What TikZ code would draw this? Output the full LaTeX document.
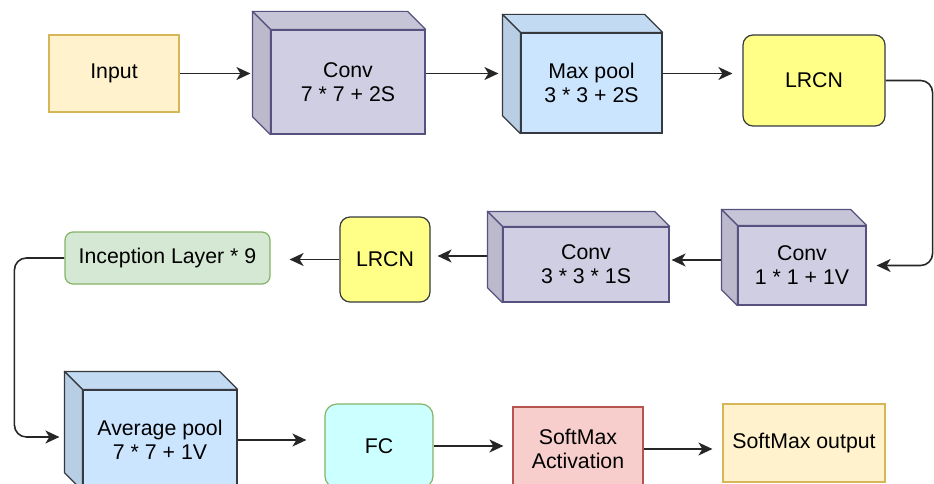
\documentclass[tikz,border=0pt]{standalone}
\usepackage{fontspec}
\setmainfont{Liberation Sans}
\usetikzlibrary{arrows.meta,calc,backgrounds}
\definecolor{cvfill}{HTML}{D0CEE2}
\definecolor{cvline}{HTML}{56517E}
\definecolor{plfill}{HTML}{CCE5FF}
\definecolor{dkline}{HTML}{36393D}
\definecolor{iofill}{HTML}{FFF2CC}
\definecolor{ioline}{HTML}{D6B656}
\definecolor{lrfill}{HTML}{FFFF88}
\definecolor{icfill}{HTML}{D5E8D4}
\definecolor{icline}{HTML}{82B366}
\definecolor{fcfill}{HTML}{CCFFFF}
\definecolor{smfill}{HTML}{F8CECC}
\definecolor{smline}{HTML}{B85450}
\tikzset{
  fx/.style={x=1pt, y=1pt, font=\fontsize{21.3}{24}\selectfont},
  n box/.style={draw, line width=1.2pt, align=center, inner sep=0pt},
  n io/.style={n box, fill=iofill, draw=ioline},
  n conv/.style={n box, fill=cvfill, draw=cvline},
  n pool/.style={n box, fill=plfill, draw=dkline},
  n lrcn/.style={n box, fill=lrfill, draw=dkline, rounded corners=10pt},
  n incep/.style={n box, fill=icfill, draw=icline, rounded corners=8pt},
  n fc/.style={n box, fill=fcfill, draw=icline, rounded corners=12pt},
  n soft/.style={n box, fill=smfill, draw=smline},
  n arr/.style={-{Stealth[length=14pt, width=13pt, inset=4pt]}, line width=1.6pt, black!85},
}
% top and left faces behind a front-face node: node, depth, fill, line
\newcommand{\cubefaces}[4]{%
  \filldraw[fill=#3!95!black, draw=#4, line width=1.2pt, line join=round]
    (#1.north west) -- ++(-#2,#2) -- ($(#1.north east)+(-#2,#2)$) -- (#1.north east) -- cycle;
  \filldraw[fill=#3!90!black, draw=#4, line width=1.2pt, line join=round]
    (#1.north west) -- ++(-#2,#2) -- ($(#1.south west)+(-#2,#2)$) -- (#1.south west) -- cycle;
}

\begin{document}
\begin{tikzpicture}[fx]
\useasboundingbox (0,0) rectangle (934,-484);
\clip (0,0) rectangle (934,-484);
% ---- row 1 ----
\node[n io, minimum width=130pt, minimum height=77pt] (input) at (114,-73.5) {Input};
\node[n conv, minimum width=154pt, minimum height=104pt] (conv1) at (348,-82) {Conv\\7 * 7 + 2S};
\cubefaces{conv1}{18}{cvfill}{cvline}
\node[n pool, minimum width=141pt, minimum height=100pt] (mpool) at (591.5,-83) {Max pool\\3 * 3 + 2S};
\cubefaces{mpool}{18}{plfill}{dkline}
\node[n lrcn, minimum width=142pt, minimum height=91pt] (lrcn1) at (814,-80.5) {LRCN};
% ---- row 2 ----
\node[n conv, minimum width=128pt, minimum height=79pt] (conv11) at (802,-265.5) {Conv\\1 * 1 + 1V};
\cubefaces{conv11}{16}{cvfill}{cvline}
\node[n conv, minimum width=166pt, minimum height=75pt] (conv33) at (586,-264.5) {Conv\\3 * 3 * 1S};
\cubefaces{conv33}{15}{cvfill}{cvline}
\node[n lrcn, minimum width=90pt, minimum height=85pt] (lrcn2) at (385,-259.5) {LRCN};
\node[n incep, minimum width=205pt, minimum height=52pt] (incep) at (167.5,-258) {Inception Layer * 9};
% ---- row 3 ----
\node[n pool, minimum width=154pt, minimum height=100pt] (avg) at (160,-440) {Average pool\\7 * 7 + 1V};
\cubefaces{avg}{18}{plfill}{dkline}
\node[n fc, minimum width=108pt, minimum height=84pt] (fc) at (379,-446) {FC};
\node[n soft, minimum width=130pt, minimum height=84pt] (smax) at (578,-449) {SoftMax\\Activation};
\node[n io, minimum width=162pt, minimum height=78pt] (out) at (804,-443) {SoftMax output};
% ---- connectors ----
\coordinate (c11 out) at ([yshift=5.5pt]conv11.west);
\coordinate (c33 out) at ([yshift=8.5pt]conv33.west);
\coordinate (avg in) at ([yshift=3pt]avg.west);
\begin{scope}[on background layer]
\draw[n arr, shorten >=20pt] (input.east) -- (input.east -| conv1.west);
\draw[n arr, shorten >=22pt] (conv1.east |- input.east) -- (mpool.west |- input.east);
\draw[n arr, shorten >=10pt] (mpool.east |- input.east) -- (lrcn1.west |- input.east);
\draw[n arr, rounded corners=12pt, shorten >=10pt] (lrcn1.east) -| ([xshift=66pt]conv11.east) -- (conv11.east);
\draw[n arr, shorten >=2pt] (c11 out) -- (c11 out -| conv33.east);
\draw[n arr, shorten >=7pt] (c33 out) -- (c33 out -| lrcn2.east);
\draw[n arr, shorten >=19pt] (lrcn2.west) -- (lrcn2.west -| incep.east);
\draw[n arr, rounded corners=12pt, shorten >=23pt] (incep.west) -| ([xshift=-68pt]avg in) -- (avg in);
\draw[n arr, shorten >=18pt] (avg.east) -- (avg.east -| fc.west);
\draw[n arr, shorten >=9pt] (fc.east) -- (fc.east -| smax.west);
\draw[n arr, shorten >=10pt] (smax.east) -- (smax.east -| out.west);
\end{scope}
\end{tikzpicture}
\end{document}
